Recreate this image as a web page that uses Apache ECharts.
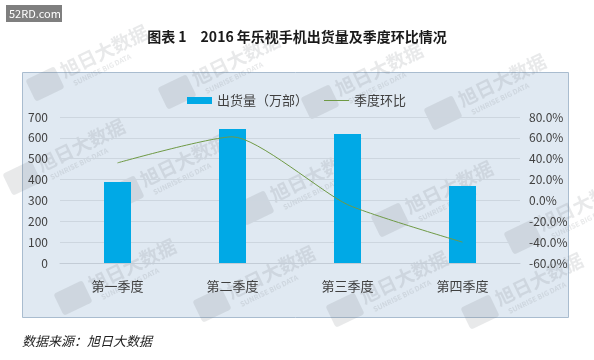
<!DOCTYPE html>
<html>
<head>
<meta charset="utf-8">
<script src="https://cdn.jsdelivr.net/npm/echarts@6/dist/echarts.min.js"></script>
<style>
html,body{margin:0;padding:0;background:#fff;}
#c{width:594px;height:360px;}
</style>
</head>
<body>
<div id="c"></div>
<script>
var categories = ['第一季度', '第二季度', '第三季度', '第四季度'];
var shipments = [388, 642, 618, 369];
var qoqGrowth = [36.0, 61.0, -4.0, -40.0];
var leftTicks = [0, 100, 200, 300, 400, 500, 600, 700];
var rightTicks = [-60, -40, -20, 0, 20, 40, 60, 80];
var seriesNames = ['出货量（万部）', '季度环比'];
var titleText = '图表 1　2016 年乐视手机出货量及季度环比情况';
var sourceText = '数据来源：旭日大数据';

var FONT = '"Noto Sans CJK SC", "Noto Sans", sans-serif';
var wmColor = 'rgba(120,125,132,0.17)';
var wmPositions = [[45,84],[22,178],[125,193],[177,92],[255,208],[320,102],[443,113],[390,220],[523,237],[73,298],[212,305],[345,310],[480,312]];

function watermark(p){
  return {
    type: 'group', x: p[0], y: p[1], rotation: 0.45, z: 100, silent: true,
    children: [
      {type:'rect', shape:{x:-16,y:-12,width:32,height:24,r:3}, style:{fill:wmColor}},
      {type:'text', x:20, y:-4, style:{text:'旭日大数据', font:'bold 19px ' + FONT, fill:wmColor, textVerticalAlign:'middle'}},
      {type:'text', x:26, y:12, style:{text:'SUNRISE BIG DATA', font:'bold 7px ' + FONT, fill:wmColor, textVerticalAlign:'middle'}}
    ]
  };
}

var graphics = [
  {type:'rect', z:-10, shape:{x:22.5,y:72.5,width:546,height:245}, style:{fill:'#e0e9f2', stroke:'#a9bccf', lineWidth:1}},
  {type:'rect', z:5, shape:{x:6,y:5,width:56,height:17}, style:{fill:'#7f7f7f'}},
  {type:'text', z:6, x:9, y:13.5, style:{text:'52RD.com', font:'11px ' + FONT, fill:'#ffffff', textVerticalAlign:'middle'}},
  {type:'text', z:5, x:22, y:341, style:{text:sourceText, font:'italic 13px ' + FONT, fill:'#222222', textVerticalAlign:'middle'}}
];
wmPositions.forEach(function(p){ graphics.push(watermark(p)); });

var chart = echarts.init(document.getElementById('c'), null, {renderer:'canvas'});
chart.setOption({
  animation: false,
  backgroundColor: '#ffffff',
  textStyle: {fontFamily: FONT},
  title: {
    text: titleText, left: 'center', top: 25,
    textStyle: {fontSize: 14, fontWeight: 'bold', color: '#1a1a1a', fontFamily: FONT}
  },
  legend: {
    data: [
      {name: seriesNames[0], icon: 'rect'},
      {name: seriesNames[1], icon: 'path://M0,0L24,0L24,1L0,1Z'}
    ],
    left: 182, top: 89, itemWidth: 25, itemHeight: 7, itemGap: 16,
    textStyle: {fontSize: 13, color: '#404040', fontFamily: FONT}
  },
  grid: {left: 60, right: 74, top: 117, bottom: 97},
  xAxis: {
    type: 'category', data: categories,
    axisLine: {show: true, lineStyle: {color: '#c3ccd6'}},
    axisTick: {show: false},
    axisLabel: {fontSize: 13, color: '#404040', margin: 17, fontFamily: FONT}
  },
  yAxis: [
    {
      type: 'value', min: leftTicks[0], max: leftTicks[leftTicks.length-1], interval: 100,
      axisLine: {show: false}, axisTick: {show: false},
      axisLabel: {fontSize: 12, color: '#404040', margin: 12, fontFamily: FONT},
      splitLine: {lineStyle: {color: '#cdd6df', width: 1}}
    },
    {
      type: 'value', min: rightTicks[0], max: rightTicks[rightTicks.length-1], interval: 20,
      axisLine: {show: false}, axisTick: {show: false},
      axisLabel: {fontSize: 12, color: '#404040', margin: 9, fontFamily: FONT,
        formatter: function(v){ return v.toFixed(1) + '%'; }},
      splitLine: {show: false}
    }
  ],
  series: [
    {
      name: seriesNames[0], type: 'bar', data: shipments, yAxisIndex: 0,
      barWidth: 27, itemStyle: {color: '#00a9e6'}
    },
    {
      name: seriesNames[1], type: 'line', data: qoqGrowth, yAxisIndex: 1,
      symbol: 'none', smooth: 0.2, lineStyle: {color: '#6f9a45', width: 1},
      itemStyle: {color: '#6f9a45'}
    }
  ],
  graphic: graphics
});
</script>
</body>
</html>
